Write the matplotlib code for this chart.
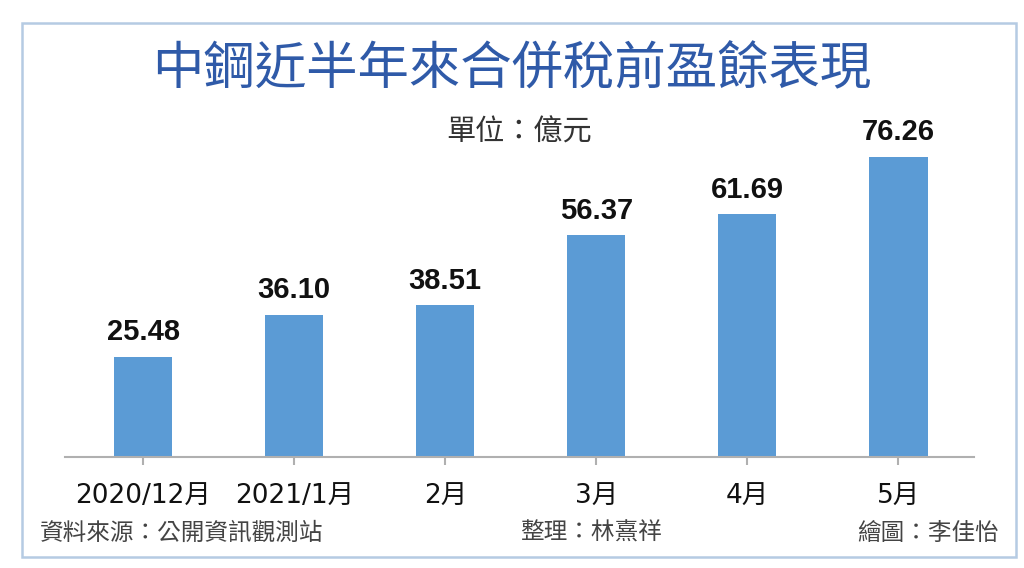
import matplotlib
matplotlib.use("Agg")
import matplotlib.pyplot as plt
from matplotlib.patches import Rectangle

plt.rcParams["font.family"] = ["Noto Sans CJK TC", "DejaVu Sans"]

# data
months = ["2020/12月", "2021/1月", "2月", "3月", "4月", "5月"]
profit = [25.48, 36.10, 38.51, 56.37, 61.69, 76.26]
labels = ["25.48", "36.10", "38.51", "56.37", "61.69", "76.26"]

W, H = 1024, 568
fig = plt.figure(figsize=(W / 100, H / 100), dpi=100)
fig.patch.set_facecolor("white")

# outer light blue frame
fig.patches.append(Rectangle((22 / W, 1 - 557 / H), (1016 - 22) / W, (557 - 23) / H,
                             transform=fig.transFigure, fill=False,
                             edgecolor="#b5cbe3", linewidth=1.8))

# axes: x from 65 to 974 px, y from 120 to 457 px
ax = fig.add_axes([65 / W, 1 - 457 / H, (974 - 65) / W, (457 - 120) / H])
x = range(len(months))
ax.bar(x, profit, width=0.385, color="#5b9bd5")
ax.set_xlim(-0.517, 5.5)
ax.set_ylim(0, 85.66)

for xi, v, s in zip(x, profit, labels):
    ax.text(xi, v + 4.2, s, ha="center", va="baseline", fontsize=21,
            fontweight="bold", family=["Liberation Sans"], color="#111111")

for side in ["top", "right", "left"]:
    ax.spines[side].set_visible(False)
ax.spines["bottom"].set_color("#b0b0b0")
ax.spines["bottom"].set_linewidth(1.5)
ax.set_yticks([])
ax.set_xticks(list(x))
ax.set_xticklabels(months, fontsize=19, color="#111111",
                   family=["DejaVu Sans", "Noto Sans CJK TC"])
ax.tick_params(axis="x", length=6, width=1.5, color="#b0b0b0", pad=13)
ax.set_facecolor("none")

# title and notes
fig.text(0.5, 1 - 70 / H, "中鋼近半年來合併稅前盈餘表現", ha="center", va="center",
         fontsize=37, color="#2f5aa8", fontweight="medium")
fig.text(519 / W, 1 - 133 / H, "單位：億元", ha="center", va="center",
         fontsize=21, color="#333333")

fig.text(40 / W, 1 - 533 / H, "資料來源：公開資訊觀測站", ha="left", va="center",
         fontsize=17, color="#444444")
fig.text(520 / W, 1 - 533 / H, "整理：林熹祥", ha="left", va="center",
         fontsize=17, color="#444444")
fig.text(999 / W, 1 - 533 / H, "繪圖：李佳怡", ha="right", va="center",
         fontsize=17, color="#444444")

fig.savefig("out.png", dpi=100)
